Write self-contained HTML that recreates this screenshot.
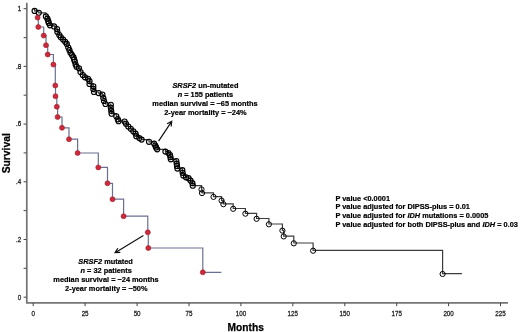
<!DOCTYPE html>
<html><head><meta charset="utf-8"><style>
html,body{margin:0;padding:0;background:#fff;}
body{width:520px;height:332px;overflow:hidden;}
svg{display:block;filter:blur(0.3px);}
text{font-family:"Liberation Sans",sans-serif;}
.b{font-weight:bold;font-size:7.7px;fill:#000;stroke:#000;stroke-width:0.2px;}
.i{font-style:italic;}
</style></head><body>
<svg width="520" height="332" viewBox="0 0 520 332">
<rect width="520" height="332" fill="#fff"/>
<g stroke="#767676" stroke-width="1.75" fill="none">
<path d="M26.8,2.8 V302.9 H508"/>
</g>
<g stroke="#444" stroke-width="1" fill="none"><line x1="33.2" y1="303" x2="33.2" y2="306.2"/><line x1="85.1" y1="303" x2="85.1" y2="306.2"/><line x1="137.1" y1="303" x2="137.1" y2="306.2"/><line x1="189.0" y1="303" x2="189.0" y2="306.2"/><line x1="240.9" y1="303" x2="240.9" y2="306.2"/><line x1="292.8" y1="303" x2="292.8" y2="306.2"/><line x1="344.8" y1="303" x2="344.8" y2="306.2"/><line x1="396.7" y1="303" x2="396.7" y2="306.2"/><line x1="448.6" y1="303" x2="448.6" y2="306.2"/><line x1="500.5" y1="303" x2="500.5" y2="306.2"/><line x1="23.6" y1="297.2" x2="26.5" y2="297.2"/><line x1="23.6" y1="268.3" x2="26.5" y2="268.3"/><line x1="23.6" y1="239.5" x2="26.5" y2="239.5"/><line x1="23.6" y1="210.6" x2="26.5" y2="210.6"/><line x1="23.6" y1="181.8" x2="26.5" y2="181.8"/><line x1="23.6" y1="152.9" x2="26.5" y2="152.9"/><line x1="23.6" y1="124.1" x2="26.5" y2="124.1"/><line x1="23.6" y1="95.2" x2="26.5" y2="95.2"/><line x1="23.6" y1="66.4" x2="26.5" y2="66.4"/><line x1="23.6" y1="37.6" x2="26.5" y2="37.6"/><line x1="23.6" y1="8.7" x2="26.5" y2="8.7"/></g>
<g font-size="7.8" fill="#222" stroke="#222" stroke-width="0.3" text-anchor="middle">
<g transform="translate(0,0)"><text transform="translate(33.2,316.2) scale(0.8,1)">0</text><text transform="translate(85.1,316.2) scale(0.8,1)">25</text><text transform="translate(137.1,316.2) scale(0.8,1)">50</text><text transform="translate(189.0,316.2) scale(0.8,1)">75</text><text transform="translate(240.9,316.2) scale(0.8,1)">100</text><text transform="translate(292.8,316.2) scale(0.8,1)">125</text><text transform="translate(344.8,316.2) scale(0.8,1)">150</text><text transform="translate(396.7,316.2) scale(0.8,1)">175</text><text transform="translate(448.6,316.2) scale(0.8,1)">200</text><text transform="translate(500.5,316.2) scale(0.8,1)">225</text></g>
</g>
<g font-size="7.8" fill="#222" stroke="#222" stroke-width="0.3" text-anchor="end"><text transform="translate(21.3,11.0) scale(0.8,1)">1</text><text transform="translate(21.3,68.7) scale(0.8,1)">.8</text><text transform="translate(21.3,126.4) scale(0.8,1)">.6</text><text transform="translate(21.3,184.1) scale(0.8,1)">.4</text><text transform="translate(21.3,241.8) scale(0.8,1)">.2</text><text transform="translate(21.3,299.5) scale(0.8,1)">0</text></g>
<text x="10.4" y="153.3" font-size="10.3" font-weight="bold" fill="#000" stroke="#000" stroke-width="0.25" text-anchor="middle" transform="rotate(-90 10.4 153.3)">Survival</text>
<text x="227.6" y="330.7" font-size="10.2" font-weight="bold" fill="#000" stroke="#000" stroke-width="0.25">Months</text>
<path d="M37.6,17.6 H38.3 V27.0 H43.7 V35.6 H46.0 V45.2 H47.7 V54.5 H53.4 V64.6 H55.3 V85.5 H55.5 V96.2 H56.8 V106.7 H57.6 V117.0 H62.0 V127.8 H69.0 V139.2 H77.6 V153.0 H98.3 V167.4 H107.5 V183.3 H112.5 V199.2 H123.6 V216.2 H147.8 V232.3 H148.3 V248.0 H202.8 V272.3 H221.4" stroke="#6b7092" stroke-width="1.2" fill="none"/>
<path d="M33.2,8.7 H34.6 V10.9 H38.8 V12.8 H45.9 V16.4 H47.4 V18.7 H48.3 V21.2 H48.8 V23.1 H50.0 V25.3 H54.0 V26.4 H57.0 V29.0 H57.4 V32.0 H59.3 V35.0 H60.8 V37.3 H63.1 V39.6 H65.2 V41.8 H66.8 V43.9 H68.3 V47.5 H70.5 V52.8 H73.4 V57.2 H74.8 V61.5 H75.6 V64.5 H76.6 V66.8 H79.0 V68.3 H80.5 V72.0 H82.8 V75.0 H85.0 V77.3 H88.0 V78.8 H89.5 V81.0 H89.5 V84.0 H93.3 V86.3 H93.3 V88.9 H94.0 V92.0 H98.6 V93.1 H102.4 V94.6 H103.3 V98.0 H104.0 V101.0 H105.5 V104.0 H110.8 V104.8 H110.8 V107.8 H111.2 V110.8 H111.6 V113.7 H116.3 V116.3 H117.8 V119.3 H118.5 V121.2 H124.6 V121.6 H126.0 V123.8 H128.3 V126.5 H130.8 V128.8 H133.3 V131.3 H135.5 V133.6 H136.3 V136.2 H139.3 V138.1 H141.6 V139.6 H149.0 V141.8 H154.1 V143.6 H155.3 V145.5 H156.0 V147.4 H157.2 V149.3 H165.4 V151.6 H168.4 V153.1 H170.0 V155.0 H170.4 V157.0 H170.8 V159.3 H176.3 V161.0 H176.7 V163.7 H177.0 V165.9 H177.4 V168.6 H182.3 V170.1 H182.6 V172.8 H183.3 V175.5 H186.0 V177.3 H188.5 V178.2 H190.5 V180.6 H192.4 V183.1 H192.8 V185.7 H201.5 V189.1 H202.0 V192.8 H213.5 V196.6 H221.6 V200.3 H223.4 V203.9 H233.2 V208.5 H245.4 V213.4 H256.6 V218.5 H268.9 V224.0 H282.4 V230.3 H283.7 V236.1 H293.8 V243.0 H313.1 V250.4 H442.6 V273.7 H461.9" stroke="#3c3c3c" stroke-width="1.2" fill="none"/>
<g stroke="#000" stroke-width="1.15" fill="none"><circle cx="34.6" cy="10.9" r="2.55"/><circle cx="38.8" cy="12.8" r="2.55"/><circle cx="45.9" cy="16.4" r="2.55"/><circle cx="47.4" cy="18.7" r="2.55"/><circle cx="48.3" cy="21.2" r="2.55"/><circle cx="48.8" cy="23.1" r="2.55"/><circle cx="50.0" cy="25.3" r="2.55"/><circle cx="54.0" cy="26.4" r="2.55"/><circle cx="57.0" cy="29.0" r="2.55"/><circle cx="57.4" cy="32.0" r="2.55"/><circle cx="59.3" cy="35.0" r="2.55"/><circle cx="60.8" cy="37.3" r="2.55"/><circle cx="63.1" cy="39.6" r="2.55"/><circle cx="65.2" cy="41.8" r="2.55"/><circle cx="66.8" cy="43.9" r="2.55"/><circle cx="68.3" cy="47.5" r="2.55"/><circle cx="69.4" cy="50.1" r="2.55"/><circle cx="70.5" cy="52.8" r="2.55"/><circle cx="72.0" cy="55.0" r="2.55"/><circle cx="73.4" cy="57.2" r="2.55"/><circle cx="74.1" cy="59.4" r="2.55"/><circle cx="74.8" cy="61.5" r="2.55"/><circle cx="75.6" cy="64.5" r="2.55"/><circle cx="76.6" cy="66.8" r="2.55"/><circle cx="79.0" cy="68.3" r="2.55"/><circle cx="80.5" cy="72.0" r="2.55"/><circle cx="82.8" cy="75.0" r="2.55"/><circle cx="85.0" cy="77.3" r="2.55"/><circle cx="88.0" cy="78.8" r="2.55"/><circle cx="89.5" cy="81.0" r="2.55"/><circle cx="89.5" cy="84.0" r="2.55"/><circle cx="93.3" cy="86.3" r="2.55"/><circle cx="93.3" cy="88.9" r="2.55"/><circle cx="94.0" cy="92.0" r="2.55"/><circle cx="98.6" cy="93.1" r="2.55"/><circle cx="102.4" cy="94.6" r="2.55"/><circle cx="103.3" cy="98.0" r="2.55"/><circle cx="104.0" cy="101.0" r="2.55"/><circle cx="105.5" cy="104.0" r="2.55"/><circle cx="110.8" cy="104.8" r="2.55"/><circle cx="110.8" cy="107.8" r="2.55"/><circle cx="111.2" cy="110.8" r="2.55"/><circle cx="111.6" cy="113.7" r="2.55"/><circle cx="116.3" cy="116.3" r="2.55"/><circle cx="117.8" cy="119.3" r="2.55"/><circle cx="118.5" cy="121.2" r="2.55"/><circle cx="124.6" cy="121.6" r="2.55"/><circle cx="126.0" cy="123.8" r="2.55"/><circle cx="128.3" cy="126.5" r="2.55"/><circle cx="130.8" cy="128.8" r="2.55"/><circle cx="133.3" cy="131.3" r="2.55"/><circle cx="135.5" cy="133.6" r="2.55"/><circle cx="136.3" cy="136.2" r="2.55"/><circle cx="139.3" cy="138.1" r="2.55"/><circle cx="141.6" cy="139.6" r="2.55"/><circle cx="149.0" cy="141.8" r="2.55"/><circle cx="154.1" cy="143.6" r="2.55"/><circle cx="155.3" cy="145.5" r="2.55"/><circle cx="156.0" cy="147.4" r="2.55"/><circle cx="157.2" cy="149.3" r="2.55"/><circle cx="165.4" cy="151.6" r="2.55"/><circle cx="168.4" cy="153.1" r="2.55"/><circle cx="170.0" cy="155.0" r="2.55"/><circle cx="170.4" cy="157.0" r="2.55"/><circle cx="170.8" cy="159.3" r="2.55"/><circle cx="176.3" cy="161.0" r="2.55"/><circle cx="176.7" cy="163.7" r="2.55"/><circle cx="177.0" cy="165.9" r="2.55"/><circle cx="177.4" cy="168.6" r="2.55"/><circle cx="182.3" cy="170.1" r="2.55"/><circle cx="182.6" cy="172.8" r="2.55"/><circle cx="183.3" cy="175.5" r="2.55"/><circle cx="186.0" cy="177.3" r="2.55"/><circle cx="188.5" cy="178.2" r="2.55"/><circle cx="190.5" cy="180.6" r="2.55"/><circle cx="192.4" cy="183.1" r="2.55"/><circle cx="192.8" cy="185.7" r="2.55"/></g>
<g stroke="#000" stroke-width="1.0" fill="none"><circle cx="201.5" cy="189.4" r="2.6"/><circle cx="202.0" cy="193.1" r="2.6"/><circle cx="213.5" cy="196.9" r="2.6"/><circle cx="221.6" cy="200.6" r="2.6"/><circle cx="223.4" cy="204.2" r="2.6"/><circle cx="233.2" cy="208.8" r="2.6"/><circle cx="245.4" cy="213.7" r="2.6"/><circle cx="256.6" cy="218.8" r="2.6"/><circle cx="268.9" cy="224.3" r="2.6"/><circle cx="282.4" cy="230.6" r="2.6"/><circle cx="283.7" cy="236.4" r="2.6"/><circle cx="293.8" cy="243.3" r="2.6"/><circle cx="313.1" cy="250.7" r="2.6"/><circle cx="442.6" cy="274.0" r="2.6"/></g>
<g fill="#cc2a3a" stroke="#a01d2b" stroke-width="0.6"><circle cx="37.6" cy="17.6" r="2.5"/><circle cx="38.3" cy="27.0" r="2.5"/><circle cx="43.7" cy="35.6" r="2.5"/><circle cx="46.0" cy="45.2" r="2.5"/><circle cx="47.7" cy="54.5" r="2.5"/><circle cx="53.4" cy="64.6" r="2.5"/><circle cx="55.3" cy="85.5" r="2.5"/><circle cx="55.5" cy="96.2" r="2.5"/><circle cx="56.8" cy="106.7" r="2.5"/><circle cx="57.6" cy="117.0" r="2.5"/><circle cx="62.0" cy="127.8" r="2.5"/><circle cx="69.0" cy="139.2" r="2.5"/><circle cx="77.6" cy="153.0" r="2.5"/><circle cx="98.3" cy="167.4" r="2.5"/><circle cx="107.5" cy="183.3" r="2.5"/><circle cx="112.5" cy="199.2" r="2.5"/><circle cx="123.6" cy="216.2" r="2.5"/><circle cx="147.8" cy="232.3" r="2.5"/><circle cx="148.3" cy="248.0" r="2.5"/><circle cx="202.8" cy="272.3" r="2.5"/></g>
<g stroke="#111" stroke-width="1.2" fill="none"><path d="M158.6,141.2 L171.7,121.3 M167.1,123.8 L171.7,121.3 L171.2,126.5"/><path d="M143.4,235.6 L115.1,252.7 M120.3,252.4 L115.1,252.7 L117.8,248.2"/></g>
<g class="b" text-anchor="middle">
<text transform="translate(205.4,88.2) scale(0.96,1)"><tspan class="i">SRSF2</tspan> un-mutated</text>
<text transform="translate(205.4,97.2) scale(0.96,1)"><tspan class="i">n</tspan> = 155 patients</text>
<text transform="translate(205.0,106.0) scale(0.96,1)">median survival = ~65 months</text>
<text transform="translate(205.4,114.8) scale(0.96,1)">2-year mortality = ~24%</text>
<text transform="translate(105.6,264.2) scale(0.96,1)"><tspan class="i">SRSF2</tspan> mutated</text>
<text transform="translate(106.2,273.1) scale(0.96,1)"><tspan class="i">n</tspan> = 32 patients</text>
<text transform="translate(106.0,282.1) scale(0.96,1)">median survival = ~24 months</text>
<text transform="translate(106.3,291.0) scale(0.96,1)">2-year mortality = ~50%</text>
</g>
<g class="b">
<text transform="translate(335.4,200.6) scale(0.96,1)">P value &lt;0.0001</text>
<text transform="translate(335.4,209.4) scale(0.96,1)">P value adjusted for DIPSS-plus = 0.01</text>
<text transform="translate(335.4,218.2) scale(0.96,1)">P value adjusted for <tspan class="i">IDH</tspan> mutations = 0.0005</text>
<text transform="translate(335.4,227.0) scale(0.96,1)">P value adjusted for both DIPSS-plus and <tspan class="i">IDH</tspan> = 0.03</text>
</g>
</svg>
</body></html>
